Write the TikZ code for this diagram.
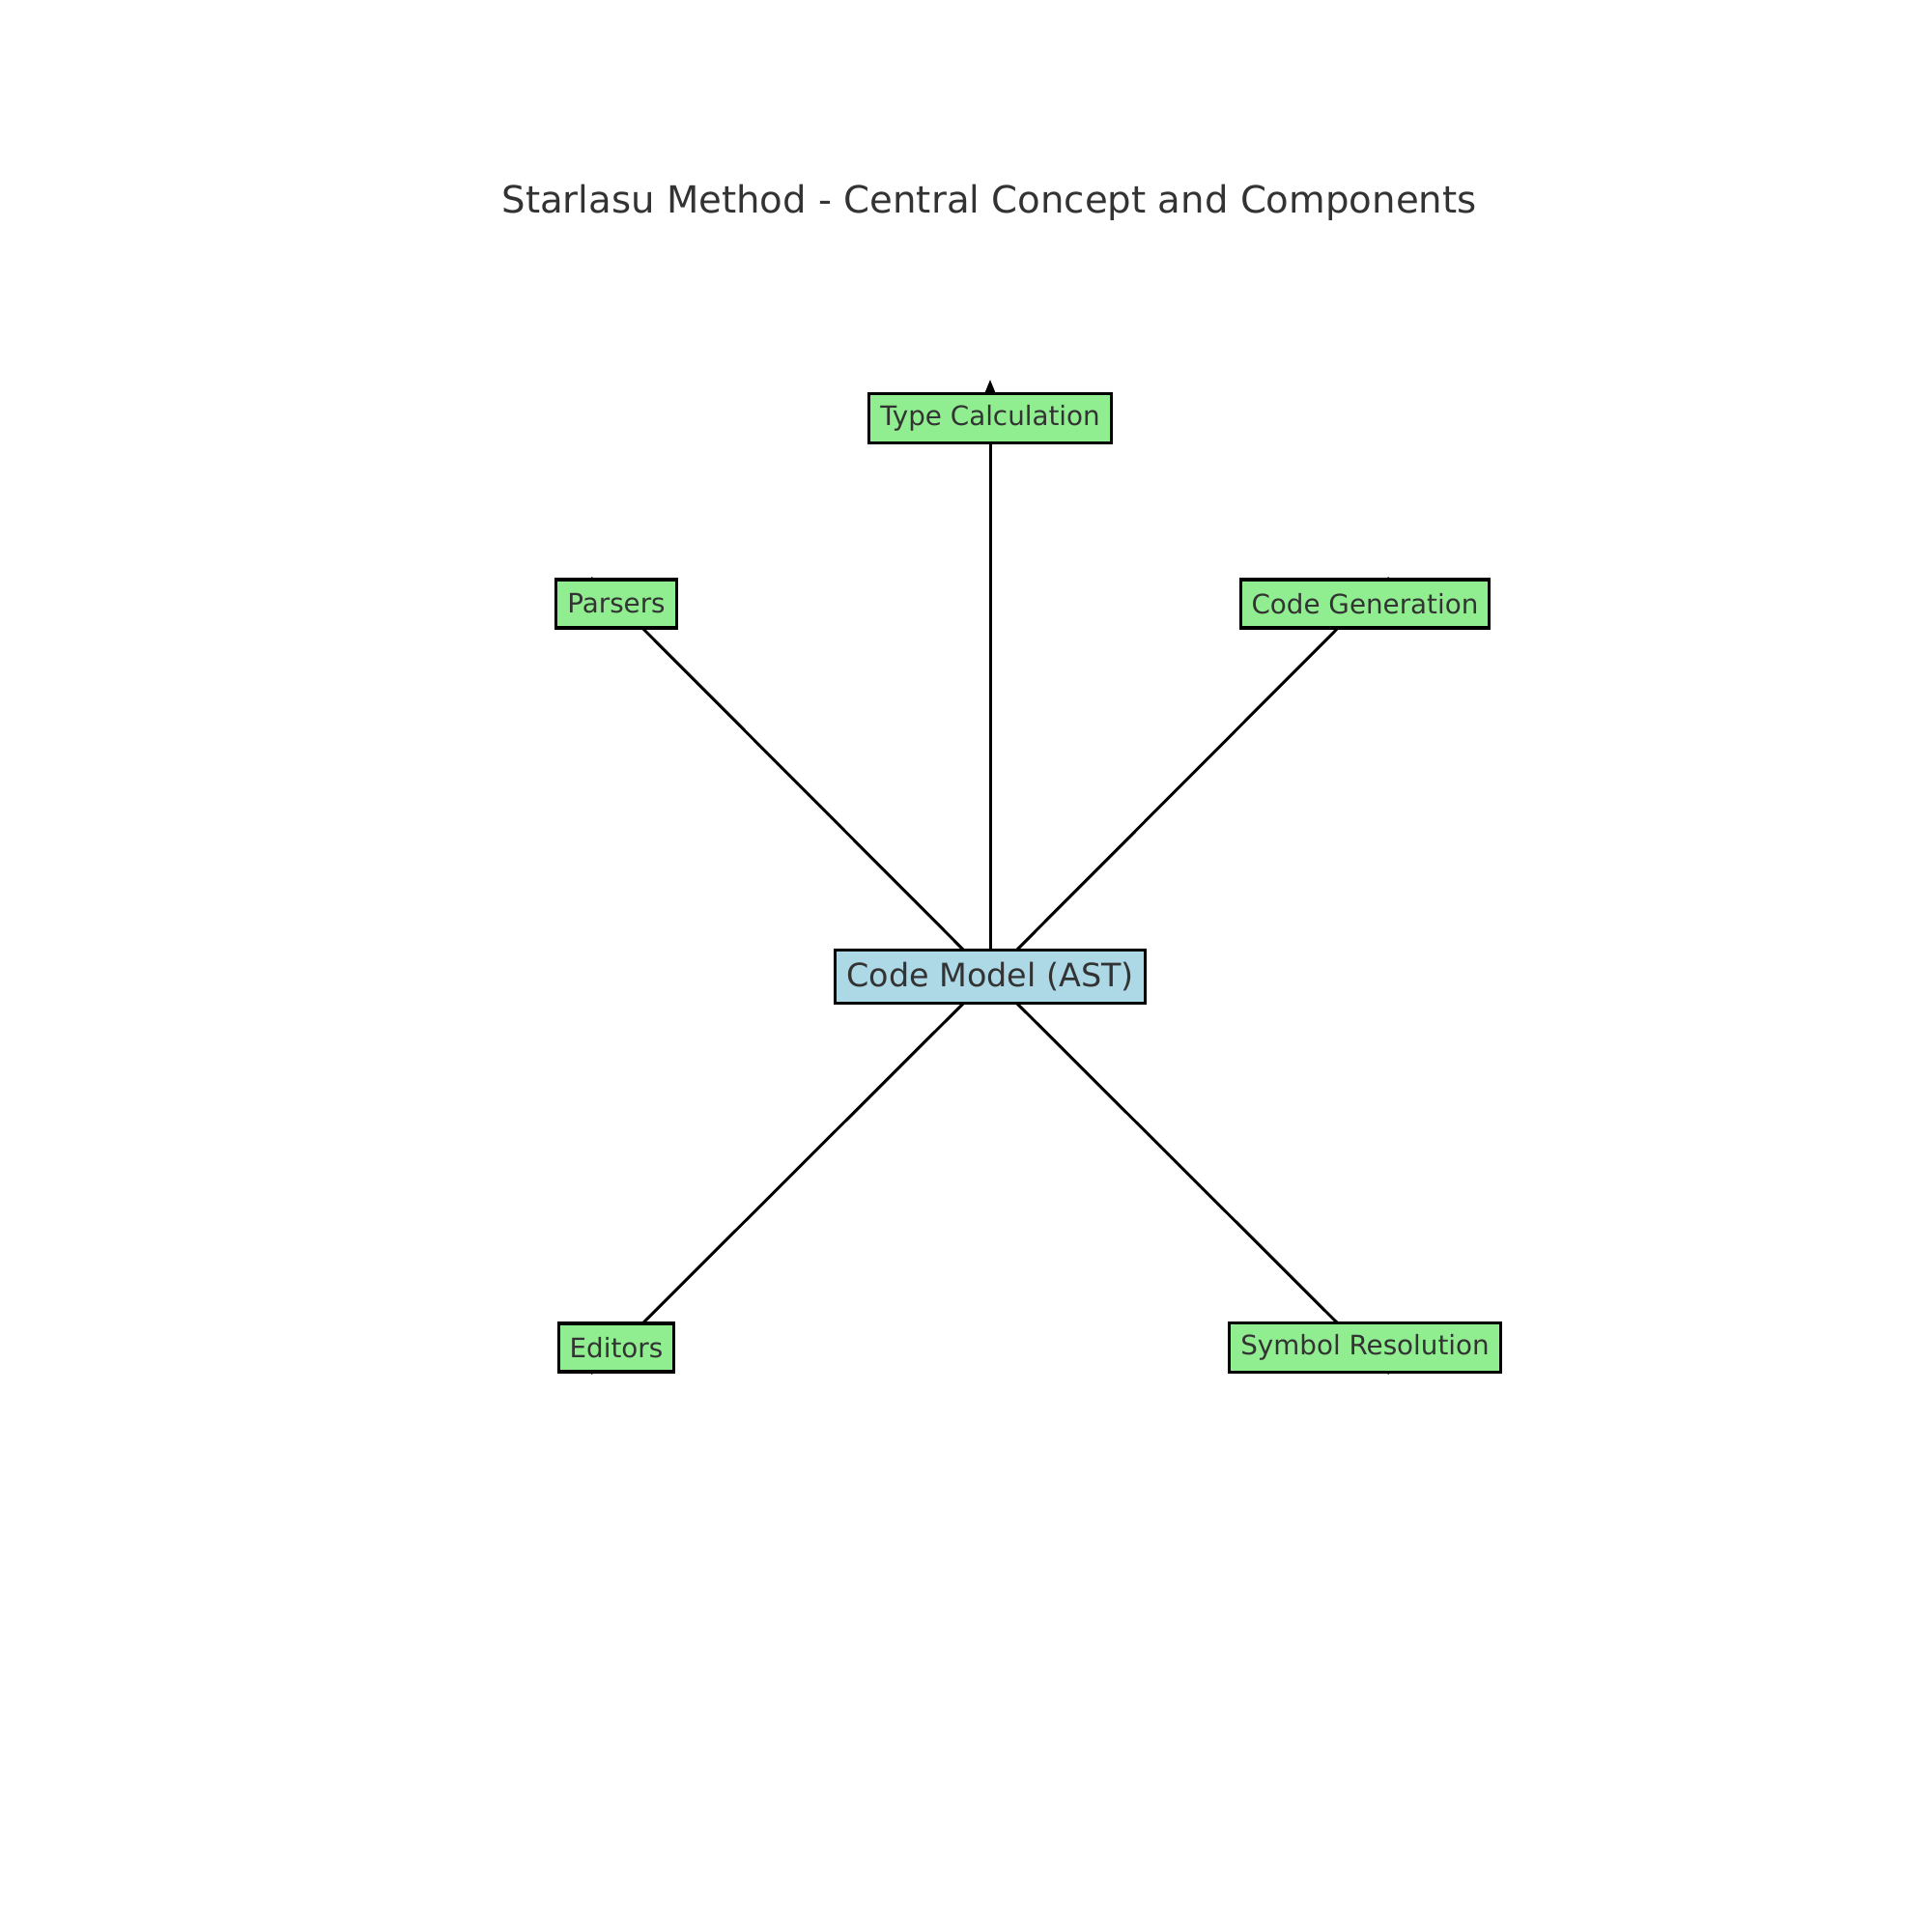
\documentclass[tikz,border=0pt]{standalone}
\usepackage{fontspec}
\setmainfont{DejaVu Sans}
\usetikzlibrary{arrows.meta,backgrounds}
\definecolor{boxgreen}{HTML}{90EE90}
\definecolor{boxblue}{HTML}{ADD8E6}
\definecolor{txtgray}{HTML}{333333}

\begin{document}
\begin{tikzpicture}[
  part/.style={draw=black, line width=0.9pt, fill=boxgreen, text=txtgray,
    font=\fontsize{7.9}{9}\selectfont, inner xsep=0.115cm, minimum height=0.5cm},
  core/.style={draw=black, line width=0.9pt, fill=boxblue, text=txtgray,
    font=\fontsize{9.5}{11}\selectfont, inner xsep=0.12cm, minimum height=0.55cm},
  link/.style={-{Triangle[length=0.22cm, width=0.17cm]}, line width=0.85pt}
]
  \useasboundingbox (0, 0) rectangle (20, 20);

  \node[text=txtgray, font=\fontsize{11}{13}\selectfont] (title) at (10.24, 17.9)
        {Starlasu Method - Central Concept and Components};

  % centre and components
  \node[core] (ast) at (10.25, 9.89) {Code Model (AST)};
  \node[part] (types)   at (10.25, 15.67) {Type Calculation};
  \node[part] (parsers) at (6.38, 13.75)  {Parsers};
  \node[part] (codegen) at (14.13, 13.75) {Code Generation};
  \node[part] (editors) at (6.38, 6.05)   {Editors};
  \node[part] (symbols) at (14.13, 6.05)  {Symbol Resolution};

  \coordinate (typesTip)   at (10.25, 16.07);
  \coordinate (parsersTip) at (6.12, 14.03);
  \coordinate (codegenTip) at (14.38, 14.03);
  \coordinate (editorsTip) at (6.12, 5.77);
  \coordinate (symbolsTip) at (14.38, 5.77);

  % arrows behind the boxes
  \begin{scope}[on background layer]
    \draw[link] (ast.center) -- (typesTip);
    \draw[link] (ast.center) -- (parsersTip);
    \draw[link] (ast.center) -- (codegenTip);
    \draw[link] (ast.center) -- (editorsTip);
    \draw[link] (ast.center) -- (symbolsTip);
  \end{scope}
\end{tikzpicture}
\end{document}
